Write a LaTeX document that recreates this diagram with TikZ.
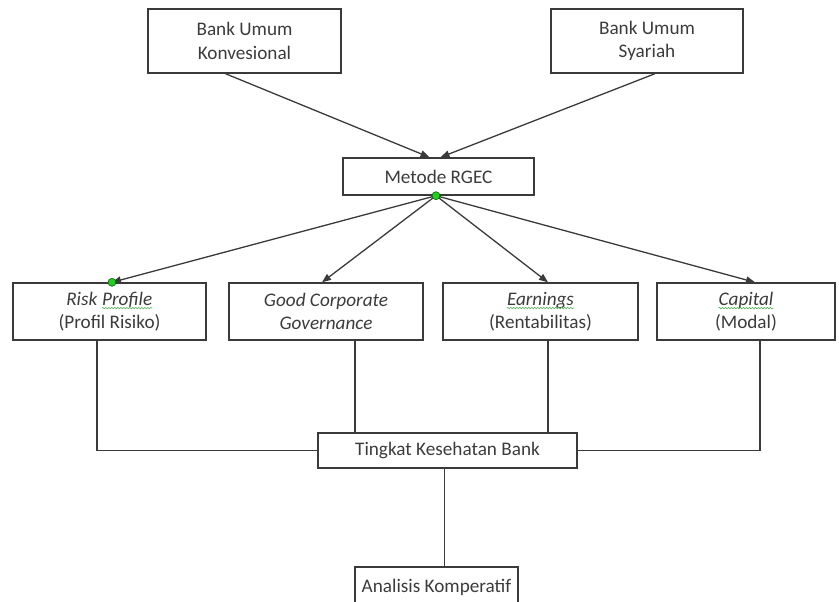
\documentclass[tikz,border=0pt]{standalone}
\usepackage{fontspec}
\setmainfont{Carlito}
\usepackage{tikz}
\usetikzlibrary{arrows.meta, positioning, calc, decorations.pathmorphing}

\definecolor{txtgray}{HTML}{3C3C3C}
\definecolor{linegray}{HTML}{3A3A3A}
\definecolor{spellgreen}{HTML}{4CAF50}
\definecolor{dotgreen}{HTML}{22CC22}
% word with the green wavy underline
\newcommand{\spellmark}[1]{\tikz[baseline=(word.base)]{%
  \node[inner sep=0pt, minimum width=0pt, minimum height=0pt, draw=none, fill=none, text=txtgray] (word) {#1};
  \draw[spellgreen, line width=0.6pt, fill=none, decorate,
    decoration={snake, amplitude=0.7pt, segment length=3pt}]
    ([yshift=-3pt]word.base west) -- ([yshift=-3pt]word.base east);}}

\begin{document}
\begin{tikzpicture}[x=1pt, y=-1pt,
  box/.style={draw=linegray, line width=1.4pt, fill=white, align=center, text=txtgray,
    font=\fontsize{19.2}{23.5}\selectfont, inner sep=0pt},
  link/.style={draw=linegray, line width=1.3pt},
  arr/.style={link, -{Triangle[length=9pt, width=7pt]}},
  hubdot/.style={circle, fill=dotgreen, draw=green!40!black, line width=0.6pt, inner sep=0pt, minimum size=8pt}]
\useasboundingbox (0,0) rectangle (839,602);

% Top: the two kinds of bank
\node[box, minimum width=193pt, minimum height=64pt] (konv) at (244.5,41) {Bank Umum\\Konvesional};
\node[box, minimum width=192pt, minimum height=64pt] (syar) at (647,41) {Bank Umum\\Syariah};

% Method
\node[box, minimum width=191pt, minimum height=37pt] (rgec) at (438.5,176.5) {Metode RGEC};

% The four RGEC factors
\node[box, minimum width=193pt, minimum height=57pt] (risk) at (109.5,311.5) {\textit{Risk \spellmark{Profile}}\\(Profil Risiko)};
\node[box, minimum width=194pt, minimum height=57pt] (gcg) at (326,311.5) {\textit{Good Corporate}\\\textit{Governance}};
\node[box, minimum width=195pt, minimum height=57pt] (earn) at (540.5,311.5) {\textit{\spellmark{Earnings}}\\(Rentabilitas)};
\node[box, minimum width=178pt, minimum height=57pt] (cap) at (746,311.5) {\textit{\spellmark{Capital}}\\(Modal)};

% Result and analysis
\node[box, minimum width=259pt, minimum height=35pt] (tkb) at (447.5,450.5) {Tingkat Kesehatan Bank};
\node[box, minimum width=163pt, minimum height=40pt] (ana) at (436.5,587) {Analisis Komperatif};

% Arrows into the method
\draw[arr] ([xshift=-19pt]konv.south) -- ([xshift=-9pt]rgec.north);
\draw[arr] ([xshift=8pt]syar.south) -- ([xshift=2pt]rgec.north);

% Arrows from the method to the factors
\coordinate (hub) at ([xshift=-2.5pt]rgec.south);
\draw[arr] (hub) -- ([xshift=2.5pt]risk.north);
\draw[arr] (hub) -- ([xshift=-4pt]gcg.north);
\draw[arr] (hub) -- ([xshift=7.5pt]earn.north);
\draw[arr] (hub) -- ([xshift=9pt]cap.north);
\node[hubdot] (hubmark) at (hub) {};
\node[hubdot] (riskmark) at ([xshift=2.5pt]risk.north) {};

% Factors joined into the health level
\draw[link] ([xshift=-12.5pt]risk.south) |- (tkb.west);
\draw[link] ([xshift=29pt]gcg.south) -- ([xshift=29pt]gcg.south |- tkb.north);
\draw[link] ([xshift=7.5pt]earn.south) -- ([xshift=7.5pt]earn.south |- tkb.north);
\draw[link] ([xshift=14pt]cap.south) |- (tkb.east);
\draw[link] ([xshift=-3pt]tkb.south) -- ([xshift=-3pt]tkb.south |- ana.north);
\end{tikzpicture}
\end{document}
